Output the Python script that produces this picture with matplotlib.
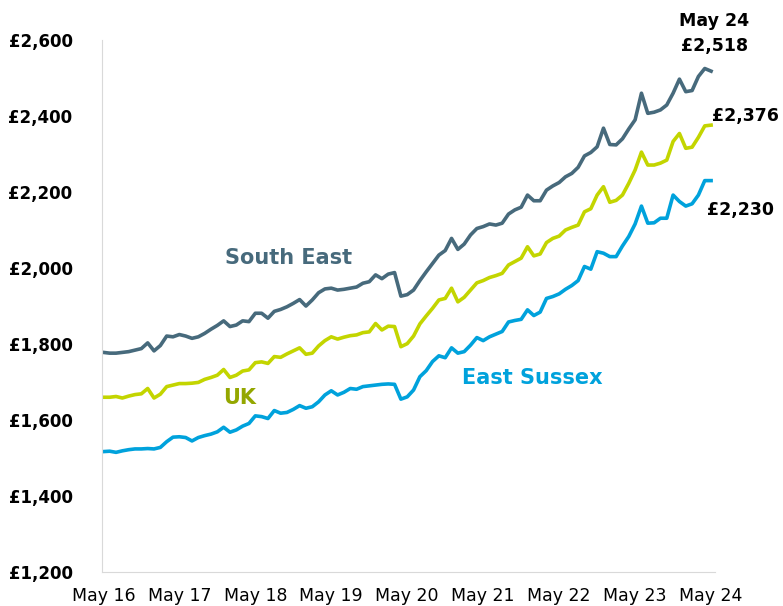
import numpy as np
import matplotlib
matplotlib.use("Agg")
import matplotlib.pyplot as plt

# Monthly values, May 2016 to May 2024
months = np.arange(97)
tick_pos = np.arange(0, 97, 12)
tick_labels = ["May 16", "May 17", "May 18", "May 19", "May 20",
               "May 21", "May 22", "May 23", "May 24"]

south_east = [1778, 1776, 1776, 1778, 1780, 1784, 1788, 1803, 1782, 1796,
              1821, 1819, 1825, 1821, 1815, 1819, 1828, 1839, 1849, 1861,
              1846, 1850, 1861, 1859, 1881, 1881, 1868, 1886, 1891, 1898,
              1907, 1917, 1900, 1916, 1935, 1945, 1947, 1942, 1944, 1947,
              1950, 1960, 1964, 1982, 1972, 1984, 1988, 1926, 1930, 1942,
              1967, 1990, 2012, 2034, 2046, 2078, 2049, 2063, 2087, 2104,
              2109, 2116, 2113, 2118, 2142, 2153, 2160, 2192, 2177, 2177,
              2205, 2216, 2225, 2240, 2249, 2265, 2295, 2304, 2319, 2368,
              2325, 2324, 2340, 2366, 2390, 2460, 2407, 2410, 2416, 2429,
              2460, 2497, 2464, 2467, 2504, 2525, 2518]

uk = [1660, 1660, 1662, 1658, 1663, 1667, 1669, 1683, 1658, 1668,
      1688, 1692, 1696, 1696, 1697, 1699, 1707, 1712, 1718, 1733,
      1712, 1718, 1729, 1732, 1751, 1753, 1749, 1767, 1765, 1774,
      1782, 1790, 1773, 1776, 1795, 1809, 1819, 1813, 1818, 1822,
      1824, 1830, 1832, 1854, 1837, 1847, 1846, 1793, 1801, 1821,
      1853, 1874, 1894, 1916, 1920, 1947, 1911, 1923, 1942, 1961,
      1967, 1975, 1980, 1986, 2008, 2017, 2026, 2056, 2032, 2037,
      2067, 2078, 2084, 2100, 2107, 2113, 2148, 2156, 2192, 2214,
      2173, 2178, 2192, 2223, 2258, 2305, 2271, 2271, 2276, 2284,
      2333, 2354, 2315, 2318, 2344, 2374, 2376]

east_sussex = [1517, 1518, 1515, 1519, 1522, 1524, 1524, 1525, 1524, 1528,
               1543, 1555, 1556, 1554, 1545, 1554, 1559, 1563, 1569, 1581,
               1568, 1574, 1584, 1591, 1611, 1609, 1604, 1625, 1618, 1620,
               1628, 1638, 1631, 1635, 1648, 1666, 1677, 1666, 1673, 1683,
               1681, 1688, 1690, 1692, 1694, 1695, 1694, 1655, 1661, 1679,
               1714, 1730, 1754, 1769, 1764, 1790, 1776, 1780, 1797, 1817,
               1809, 1819, 1826, 1833, 1858, 1862, 1865, 1890, 1875, 1884,
               1920, 1925, 1932, 1944, 1954, 1967, 2004, 1997, 2043, 2039,
               2030, 2030, 2058, 2083, 2116, 2163, 2118, 2119, 2131, 2131,
               2192, 2175, 2163, 2169, 2192, 2230, 2230]

y_ticks = [1200, 1400, 1600, 1800, 2000, 2200, 2400, 2600]

c_se = "#476a7c"
c_uk = "#c3d500"
c_es = "#00a2dc"

fig = plt.figure(figsize=(7.83, 6.06), dpi=100)
ax = fig.add_axes([0.130, 0.056, 0.783, 0.878])

ax.plot(months, south_east, color=c_se, lw=2.6, solid_joinstyle="round")
ax.plot(months, uk, color=c_uk, lw=2.6, solid_joinstyle="round")
ax.plot(months, east_sussex, color=c_es, lw=2.6, solid_joinstyle="round")

ax.set_xlim(-0.25, 96.6)
ax.set_ylim(1200, 2600)
ax.set_xticks(tick_pos)
ax.set_xticklabels(tick_labels, fontsize=12.5)
ax.set_yticks(y_ticks)
ax.set_yticklabels(["£{:,}".format(v) for v in y_ticks], fontsize=12, fontweight="bold")
ax.tick_params(axis="x", length=0, pad=11)
ax.tick_params(axis="y", length=0, pad=21)

for s in ["top", "right"]:
    ax.spines[s].set_visible(False)
for s in ["left", "bottom"]:
    ax.spines[s].set_color("#d9d9d9")

# series labels
ax.text(29.2, 2026, "South East", color=c_se, fontsize=15, fontweight="bold",
        ha="center", va="center")
ax.text(21.5, 1658, "UK", color="#94a700", fontsize=15, fontweight="bold",
        ha="center", va="center")
ax.text(67.7, 1711, "East Sussex", color=c_es, fontsize=15, fontweight="bold",
        ha="center", va="center")

# end labels
ax.text(96.5, 2616, "May 24\n£{:,}".format(south_east[-1]), fontsize=12.5,
        fontweight="bold", ha="center", va="center", clip_on=False, linespacing=1.5)
ax.text(101.5, 2400, "£{:,}".format(uk[-1]), fontsize=12.5, fontweight="bold",
        ha="center", va="center", clip_on=False)
ax.text(100.6, 2153, "£{:,}".format(east_sussex[-1]), fontsize=12.5, fontweight="bold",
        ha="center", va="center", clip_on=False)

fig.savefig("out.png", dpi=100)
